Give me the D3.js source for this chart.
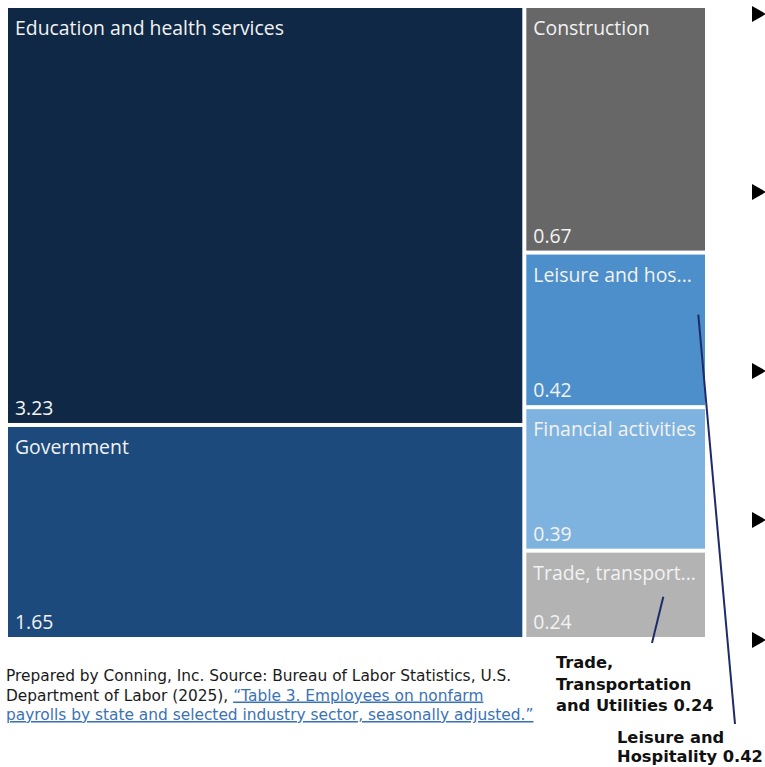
<!DOCTYPE html>
<html>
<head>
<meta charset="utf-8">
<script src="https://cdn.jsdelivr.net/npm/d3@7"></script>
<style>
  html, body { margin: 0; padding: 0; background: #fff; }
  svg { display: block; }
</style>
</head>
<body>
<svg id="chart" width="765" height="767"></svg>
<script>
// Change in nonfarm payrolls by industry sector (thousands)
const sectors = [
  "Education and health services",
  "Government",
  "Construction",
  "Leisure and hospitality",
  "Financial activities",
  "Trade, transportation and utilities"
];
const values = [3.23, 1.65, 0.67, 0.42, 0.39, 0.24];
const colors = ["#0f2846", "#1c4a7c", "#666766", "#4c8fca", "#7fb3df", "#b2b3b2"];

// Callout boxes beside the treemap
const calloutLines = [
  ["Trade,", "Transportation", "and Utilities 0.24"],
  ["Leisure and", "Hospitality 0.42"]
];
const calloutSectors = ["Trade, transportation and utilities", "Leisure and hospitality"];

const footLines = [
  "Prepared by Conning, Inc. Source: Bureau of Labor Statistics, U.S.",
  "Department of Labor (2025), ",
  "payrolls by state and selected industry sector, seasonally adjusted.\u201d"
];
const footLink = "\u201cTable 3. Employees on nonfarm ";

const svg = d3.select("#chart");
const W = 697, H = 629, X0 = 8, Y0 = 8;

const root = d3.hierarchy({ children: sectors.map((s, i) => ({ name: s, value: values[i], color: colors[i] })) })
  .sum(d => d.value || 0);

// Two columns: the two largest sectors on the left, the rest stacked on the right
function columnTile(parent, x0, y0, x1, y1) {
  const kids = parent.children;
  const cols = [kids.slice(0, 2), kids.slice(2)].map(c => ({ children: c, value: d3.sum(c, d => d.value) }));
  d3.treemapDice({ children: cols, value: parent.value }, x0, y0, x1, y1);
  cols.forEach(c => d3.treemapSlice(c, c.x0, c.y0, c.x1, c.y1));
}

d3.treemap().size([W, H]).paddingInner(4).tile(columnTile).round(false)(root);

const g = svg.append("g").attr("transform", `translate(${X0},${Y0})`);
const cell = g.selectAll("g.cell").data(root.leaves()).join("g").attr("class", "cell");

cell.append("rect")
  .attr("x", d => d.x0).attr("y", d => d.y0)
  .attr("width", d => d.x1 - d.x0).attr("height", d => d.y1 - d.y0)
  .attr("fill", d => d.data.color);

const labelFont = "'Open Sans', 'Noto Sans', sans-serif";
const labelSize = 19.4;

cell.append("text")
  .attr("x", d => d.x0 + 7).attr("y", d => d.y0 + 27)
  .attr("font-family", labelFont).attr("font-size", labelSize)
  .attr("fill", "#f2f2f2")
  .text(d => d.data.name)
  .each(function (d) {
    const maxW = d.x1 - d.x0 - 12;
    const el = d3.select(this);
    let t = d.data.name;
    if (this.getComputedTextLength() > maxW) {
      while (t.length > 1) {
        t = t.slice(0, -1);
        el.text(t.trimEnd() + "...");
        if (this.getComputedTextLength() <= maxW) break;
      }
    }
  });

cell.append("text")
  .attr("x", d => d.x0 + 7).attr("y", d => d.y1 - 8)
  .attr("font-family", labelFont).attr("font-size", labelSize)
  .attr("fill", "#f2f2f2")
  .text(d => d3.format(".2f")(d.data.value));

// Leader lines from the callouts into their tiles
const leafBy = new Map(root.leaves().map(d => [d.data.name, d]));
const tradeLeaf = leafBy.get(calloutSectors[0]);
const leisureLeaf = leafBy.get(calloutSectors[1]);

const lineColor = "#1f2a6b";
svg.append("line")
  .attr("x1", X0 + tradeLeaf.x0 + 137).attr("y1", Y0 + tradeLeaf.y0 + 44)
  .attr("x2", 652).attr("y2", 643)
  .attr("stroke", lineColor).attr("stroke-width", 2);
svg.append("line")
  .attr("x1", X0 + leisureLeaf.x0 + 172).attr("y1", Y0 + leisureLeaf.y0 + 60)
  .attr("x2", 735).attr("y2", 724)
  .attr("stroke", lineColor).attr("stroke-width", 2);

const noteFont = "'DejaVu Sans', Verdana, sans-serif";
const callout = svg.append("g").attr("font-family", noteFont).attr("font-weight", "bold")
  .attr("font-size", 16.3).attr("fill", "#111");
callout.append("text").attr("x", 556).attr("y", 668)
  .selectAll("tspan").data(calloutLines[0]).join("tspan")
  .attr("x", 556).attr("dy", (d, i) => i ? 21.5 : 0).text(d => d);
callout.append("text").attr("x", 617).attr("y", 743)
  .selectAll("tspan").data(calloutLines[1]).join("tspan")
  .attr("x", 617).attr("dy", (d, i) => i ? 19 : 0).text(d => d);

// Bullet markers of the side commentary
const bulletY = [14, 192, 371, 520, 640];
svg.append("g").selectAll("path").data(bulletY).join("path")
  .attr("d", y => `M752,${y - 8}L766,${y}L752,${y + 8}Z`)
  .attr("fill", "#000");

// Source note
const foot = svg.append("g").attr("font-family", noteFont).attr("font-size", 15.4).attr("fill", "#1a1a1a");
foot.append("text").attr("x", 6).attr("y", 681).text(footLines[0]);
const l2 = foot.append("text").attr("x", 6).attr("y", 700.5);
l2.append("tspan").text(footLines[1]);
l2.append("tspan").attr("fill", "#3a72b5").attr("text-decoration", "underline").text(footLink);
foot.append("text").attr("x", 6).attr("y", 720).attr("fill", "#3a72b5")
  .attr("text-decoration", "underline").text(footLines[2]);
</script>
</body>
</html>
